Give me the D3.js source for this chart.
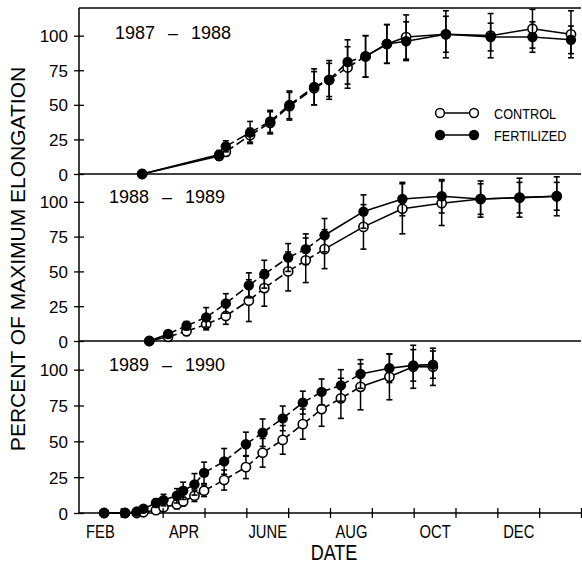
<!DOCTYPE html>
<html><head><meta charset="utf-8">
<script src="https://cdn.jsdelivr.net/npm/d3@7"></script>
<style>
body{margin:0;background:#fff;}
svg text{font-family:"Liberation Sans",Arial,Helvetica,sans-serif;fill:#000;}
</style></head><body>
<svg id="chart" width="582" height="569"></svg>
<script>
// ---------- data (x = months after 1 Feb) ----------
const monthLabels = ["FEB","APR","JUNE","AUG","OCT","DEC"];
const monthLabelPos = [0.5,2.5,4.5,6.5,8.5,10.5];
const monthTicks = [1,2,3,4,5,6,7,8,9,10,11,12];
const yTicks = [0,25,50,75,100];
const seasons = ["1987","1988","1989","1990"];
const legendLabels = ["CONTROL","FERTILIZED"];

const months87 = [1.51,3.35,3.51,4.09,4.57,5.03,5.62,5.98,6.42,6.85,7.36,7.82,8.77,9.84,10.84,11.76];
const control87 = [0,13,16,28,37,49,62,68,77,85,94,99,101,100,105,101];
const fert87    = [0,14,20,30,38,50,63,68,81,85,94,96,101,99,99,97];
const errC87    = [0,3,3,5,8,10,12,12,15,15,14,16,17,16,14,17];
const errF87    = [0,3,4,8,8,10,13,14,16,15,14,14,13,10,11,10];

const months88 = [1.68,2.13,2.57,3.04,3.51,4.06,4.43,5.00,5.42,5.87,6.80,7.73,8.67,9.60,10.53,11.42];
const control88 = [0,3,7,12,18,29,38,50,58,66,82,95,99,102,103,104];
const fert88    = [0,5,11,17,27,40,48,60,66,76,93,102,104,102,103,104];
const errC88    = [0,2,3,4,6,15,13,14,16,14,16,18,16,13,14,14];
const errF88    = [0,2,3,7,7,9,10,10,11,12,12,12,12,11,11,10];

const months89 = [0.60,1.10,1.38,1.54,1.84,2.02,2.34,2.49,2.76,2.99,3.47,3.99,4.39,4.87,5.35,5.80,6.26,6.73,7.42,7.99,8.46];
const control89 = [0,0,0,0.5,2,4,6,8,12,15.5,23,32,42,51,62,72.5,80,88,95,102,102];
const fert89    = [0,0,1,3,7,9,12,15.5,20,28,36,48,56,66,77,84.5,89,97,101,103,103.5];
const errC89    = [0,0,0,1,2,2,3,3,4,4,7,8,10,10,10.5,12,14,16,16,15,13];
const errF89    = [0,0,1,2,3,4,5,6,7.5,7.5,9,8.4,9.6,8.6,8,9,11,10,10,11,9.5];

// ---------- layout ----------
const svg = d3.select("#chart");
const left = 79, right = 581;
const narrow = 0.82;
const x = d3.scaleLinear().domain([0,12]).range([left,right]);
const panels = [
  {top:8,   bottom:174, m:months87, c:control87, f:fert87, ec:errC87, ef:errF87, label:[seasons[0],seasons[1]], lx:115, ly:39, solidBefore:1, solidFrom:9},
  {top:174, bottom:341, m:months88, c:control88, f:fert88, ec:errC88, ef:errF88, label:[seasons[1],seasons[2]], lx:109, ly:203, solidBefore:1, solidFrom:9},
  {top:341, bottom:513, m:months89, c:control89, f:fert89, ec:errC89, ef:errF89, label:[seasons[2],seasons[3]], lx:109, ly:371, solidBefore:2, solidFrom:17}
];
const lineGen = d3.line();

// frame lines
svg.append("line").attr("x1",left).attr("x2",right).attr("y1",8).attr("y2",8)
  .attr("stroke","#000").attr("stroke-width",1.5);
svg.append("line").attr("x1",left).attr("x2",left).attr("y1",8).attr("y2",513)
  .attr("stroke","#000").attr("stroke-width",1.5);

panels.forEach((p,pi)=>{
  const y = d3.scaleLinear().domain([0,120]).range([p.bottom,p.top]);
  svg.append("line").attr("x1",left).attr("x2",right).attr("y1",y(0)).attr("y2",y(0))
    .attr("stroke","#000").attr("stroke-width",1.5);
  const ya = svg.append("g").attr("transform",`translate(${left},0)`)
    .call(d3.axisLeft(y).tickValues(yTicks).tickSize(5).tickPadding(6));
  ya.select(".domain").remove();
  ya.selectAll(".tick line").attr("x1",5).attr("stroke-width",1.3);
  ya.selectAll(".tick text").style("font-size","17px").attr("dy","0.36em");

  const t = svg.append("text").attr("x",p.lx).attr("y",p.ly).style("font-size","18px");
  t.append("tspan").text(p.label[0]);
  t.append("tspan").attr("dx",13).text("–");
  t.append("tspan").attr("dx",13).text(p.label[1]);

  const g = svg.append("g");
  function drawLine(vals){
    for(let i=0;i<vals.length-1;i++){
      const solid = i < p.solidBefore || i >= p.solidFrom;
      g.append("path")
        .attr("d", lineGen([[x(p.m[i]),y(vals[i])],[x(p.m[i+1]),y(vals[i+1])]]))
        .attr("fill","none").attr("stroke","#000").attr("stroke-width",1.6)
        .attr("stroke-dasharray", solid ? null : "9,4");
    }
  }
  function drawErr(vals, errs){
    vals.forEach((v,i)=>{
      const e = errs[i]; if(!e) return;
      const cx = x(p.m[i]);
      g.append("line").attr("x1",cx).attr("x2",cx).attr("y1",y(v-e)).attr("y2",y(v+e))
        .attr("stroke","#000").attr("stroke-width",1.5);
      [v-e, v+e].forEach(yy=>{
        g.append("line").attr("x1",cx-3).attr("x2",cx+3).attr("y1",y(yy)).attr("y2",y(yy))
          .attr("stroke","#000").attr("stroke-width",1.6);
      });
    });
  }
  drawLine(p.c);
  drawLine(p.f);
  drawErr(p.c, p.ec);
  g.selectAll(null).data(p.c).enter().append("circle")
    .attr("cx",(d,i)=>x(p.m[i])).attr("cy",d=>y(d)).attr("r",4.6)
    .attr("fill","#fff").attr("stroke","#000").attr("stroke-width",1.6);
  drawErr(p.f, p.ef);
  g.selectAll(null).data(p.f).enter().append("circle")
    .attr("cx",(d,i)=>x(p.m[i])).attr("cy",d=>y(d)).attr("r",5.2)
    .attr("fill","#000");
});

// bottom axis ticks and labels
const bottomY = 513;
const xa = svg.append("g").attr("transform",`translate(0,${bottomY})`)
  .call(d3.axisBottom(x).tickValues(monthTicks).tickSize(5).tickFormat(""));
xa.select(".domain").remove();
xa.selectAll(".tick line").attr("y1",-5).attr("stroke-width",1.3);
const xl = svg.append("g").attr("transform",`translate(0,${bottomY})`)
  .call(d3.axisBottom(x).tickValues(monthLabelPos).tickSize(0).tickPadding(12)
        .tickFormat((d,i)=>monthLabels[i]));
xl.select(".domain").remove();
xl.selectAll(".tick text").style("font-size","18px").attr("transform",`scale(${narrow},1)`);

// axis titles
svg.append("g").attr("transform",`translate(334,560) scale(${narrow},1)`)
  .append("text").attr("text-anchor","middle").style("font-size","22px").text("DATE");
svg.append("text").attr("transform","translate(25,259) rotate(-90)")
  .attr("text-anchor","middle").style("font-size","21px").text("PERCENT OF MAXIMUM ELONGATION");

// legend
const leg = svg.append("g");
[[113,false],[135,true]].forEach(([ly,filled],i)=>{
  leg.append("line").attr("x1",440).attr("x2",474).attr("y1",ly).attr("y2",ly)
    .attr("stroke","#000").attr("stroke-width",1.5);
  [440,474].forEach(cx=>{
    leg.append("circle").attr("cx",cx).attr("cy",ly).attr("r",filled?5.2:4.4)
      .attr("fill",filled?"#000":"#fff").attr("stroke","#000").attr("stroke-width",filled?0:1.5);
  });
  leg.append("g").attr("transform",`translate(494,${ly+5.5}) scale(${narrow},1)`)
    .append("text").style("font-size","15.5px").text(legendLabels[i]);
});
</script>
</body></html>
